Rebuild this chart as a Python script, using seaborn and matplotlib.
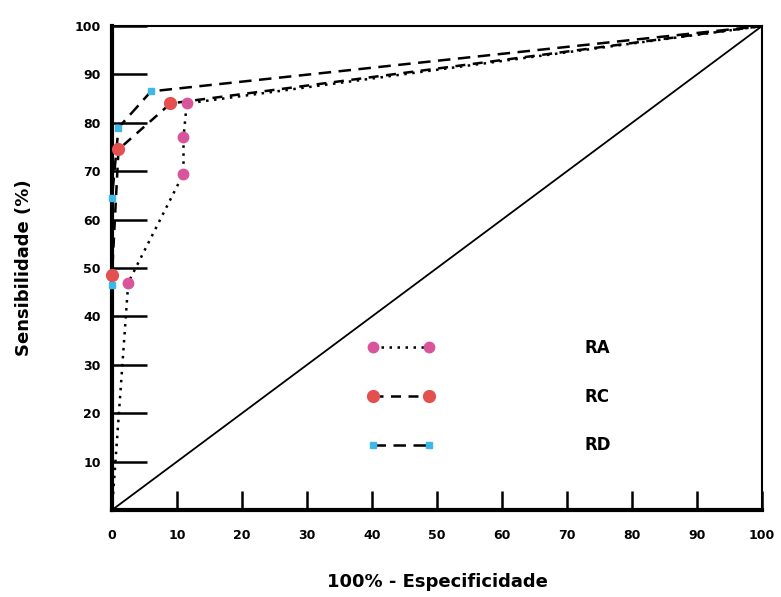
import matplotlib
matplotlib.use("Agg")
import matplotlib.pyplot as plt
from matplotlib.lines import Line2D
import seaborn as sns
import pandas as pd

# Data (x = 100% - especificidade, y = sensibilidade)
ra_x = [0, 2.5, 11, 11, 11.5, 100]
ra_y = [0, 47, 69.5, 77, 84, 100]
rc_x = [0, 0, 1, 9, 100]
rc_y = [0, 48.5, 74.5, 84, 100]
rd_x = [0, 0, 0, 1, 6, 100]
rd_y = [0, 46.5, 64.5, 79, 86.5, 100]
ref_x = [0, 100]
ref_y = [0, 100]

x_ticks = [0, 10, 20, 30, 40, 50, 60, 70, 80, 90, 100]
y_ticks = [10, 20, 30, 40, 50, 60, 70, 80, 90, 100]
series_names = ["RA", "RC", "RD"]

sns.set_style("white")
plt.rcParams['font.family'] = ['DejaVu Sans']
plt.rcParams['text.color'] = 'black'
plt.rcParams['axes.labelcolor'] = 'black'

fig = plt.figure(figsize=(7.81, 5.97), dpi=100)
ax = fig.add_axes([0.1434, 0.1457, 0.8323, 0.8107])

pink = "#d9559b"
red = "#e2504f"
cyan = "#3db8e8"

sns.lineplot(x=ref_x, y=ref_y, ax=ax, color="black", lw=1.3, sort=False, estimator=None)

specs = [
    (ra_x, ra_y, (0, (1, 2.2)), "o", pink, 7.5),
    (rc_x, rc_y, (0, (4, 3)), "o", red, 8.5),
    (rd_x, rd_y, (0, (5, 3)), "s", cyan, 5),
]
handles = []
for (xs, ys, ls, mk, col, ms), name in zip(specs, series_names):
    df = pd.DataFrame({"x": xs, "y": ys})
    sns.lineplot(data=df, x="x", y="y", ax=ax, color="black", lw=1.8, linestyle=ls,
                 sort=False, estimator=None)
    ax.plot(df["x"][1:-1], df["y"][1:-1], linestyle="none", marker=mk, ms=ms,
            markerfacecolor=col, markeredgecolor=col, zorder=4, clip_on=False)
    handles.append(Line2D([0], [0], color="black", lw=1.8, linestyle=ls, marker=mk, ms=ms,
                          markerfacecolor=col, markeredgecolor=col, label=name))

leg = ax.legend(handles=handles, loc="upper left", bbox_to_anchor=(0.37, 0.385),
                frameon=False, numpoints=2, handlelength=4.0, handletextpad=9.0,
                labelspacing=1.85, prop={"weight": "bold", "size": 12})

ax.set_xlim(0, 100)
ax.set_ylim(0, 100)
ax.set_xticks(x_ticks)
ax.set_yticks(y_ticks)
ax.set_xticklabels([str(v) for v in x_ticks], fontweight="bold", fontsize=9)
ax.set_yticklabels([str(v) for v in y_ticks], fontweight="bold", fontsize=9)
ax.tick_params(axis="x", bottom=True, direction="in", length=14, width=1.8, pad=14, colors="black")
ax.tick_params(axis="y", left=True, direction="in", length=25, width=1.8, pad=8, colors="black")

for side in ["left", "bottom"]:
    ax.spines[side].set_linewidth(3)
    ax.spines[side].set_color("black")
for side in ["top", "right"]:
    ax.spines[side].set_linewidth(1.5)
    ax.spines[side].set_color("black")
    ax.spines[side].set_visible(True)

ax.set_xlabel("100% - Especificidade", fontweight="bold", fontsize=13, labelpad=22)
ax.set_ylabel("Sensibilidade (%)", fontweight="bold", fontsize=13, labelpad=30)

fig.savefig("out.png", dpi=100)
